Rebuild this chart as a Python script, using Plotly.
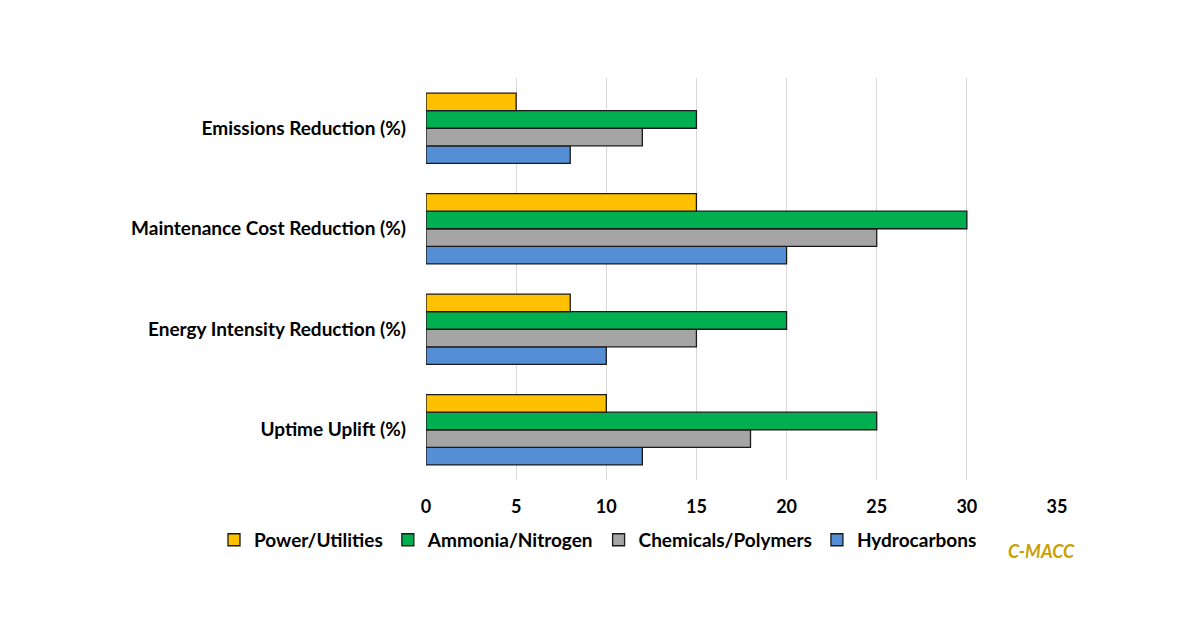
import plotly.graph_objects as go

categories = ["Uptime Uplift (%)", "Energy Intensity Reduction (%)",
              "Maintenance Cost Reduction (%)", "Emissions Reduction (%)"]
hydrocarbons = [12, 10, 20, 8]
chemicals = [18, 15, 25, 12]
ammonia = [25, 20, 30, 15]
power = [10, 8, 15, 5]

series = [
    ("Hydrocarbons", hydrocarbons, "#558ED5"),
    ("Chemicals/Polymers", chemicals, "#A5A5A5"),
    ("Ammonia/Nitrogen", ammonia, "#00B050"),
    ("Power/Utilities", power, "#FFC000"),
]

font_family = "Lato, 'Open Sans', sans-serif"

fig = go.Figure()
for name, vals, color in series:
    fig.add_trace(go.Bar(
        y=categories, x=vals, name=name, orientation="h",
        marker=dict(color=color, line=dict(color="#1a1a1a", width=1.3)),
    ))

fig.update_layout(
    width=1200, height=627,
    paper_bgcolor="white", plot_bgcolor="white",
    margin=dict(l=418, r=151, t=70, b=155),
    barmode="group", bargap=0.3, bargroupgap=0,
    font=dict(family=font_family, size=19, color="#000000"),
    xaxis=dict(range=[0, 35], dtick=5, showgrid=True, gridcolor="#D9D9D9",
               gridwidth=1, zeroline=False, showline=False,
               tickfont=dict(size=18, family=font_family, weight="bold"),
               ticks="", ticklabelstandoff=14),
    yaxis=dict(showgrid=False, zeroline=False, showline=False, ticks="",
               tickfont=dict(size=19, family=font_family, weight="bold"),
               ticklabelstandoff=19),
    legend=dict(orientation="h", traceorder="reversed",
                x=-0.336, xanchor="left",
                y=-0.149, yanchor="middle",
                font=dict(size=19, family=font_family, weight="bold"),
                itemwidth=30),
    showlegend=True,
)

fig.add_annotation(text="<i><b>C-MACC</b></i>", xref="paper", yref="paper",
                   x=0.976, y=-0.176, xanchor="center", yanchor="middle",
                   showarrow=False, font=dict(size=18, color="#C9A000", family=font_family))

fig.write_html("out.html")
